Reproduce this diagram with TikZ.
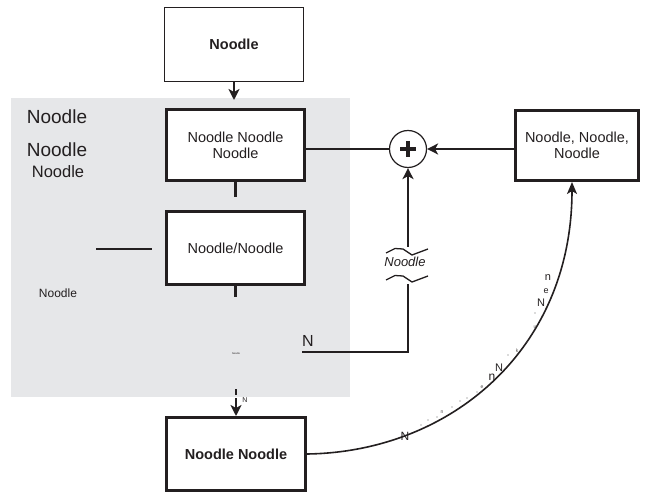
\documentclass[tikz,border=0pt]{standalone}
\usepackage{fontspec}
\setmainfont{Liberation Sans}
\usetikzlibrary{arrows.meta,calc}
\definecolor{ink}{HTML}{231F20}
\definecolor{panel}{HTML}{E6E7E9}
\tikzset{
  thinbox/.style={draw=ink,line width=1.3pt,fill=white,inner sep=0pt,align=center,text=ink},
  thickbox/.style={draw=ink,line width=3pt,fill=white,inner sep=0pt,align=center,text=ink},
  conn/.style={draw=ink,line width=2.8pt},
  arr/.style={conn,-{Stealth[length=11pt,width=11pt,inset=3pt]}},
  lbl/.style={text=ink,inner sep=0pt},
  tiny/.style={text=ink!80,inner sep=0pt,font=\fontsize{5}{6}\selectfont},
}
\begin{document}
\begin{tikzpicture}[x=1pt,y=-1pt]
\useasboundingbox (0,0) rectangle (656,494);
% gray panel
\fill[panel] (11,98) rectangle (350,397);
% boxes
\node[thinbox,minimum width=139pt,minimum height=74pt,font=\bfseries\fontsize{14.5}{16}\selectfont] (top) at (234,44.5) {Noodle};
\node[thickbox,minimum width=138pt,minimum height=71pt,font=\fontsize{14.5}{16}\selectfont] (b2) at (235.5,145) {Noodle Noodle\\Noodle};
\node[thickbox,minimum width=138pt,minimum height=73pt,font=\fontsize{14.5}{16}\selectfont] (b4) at (235.5,248) {Noodle/Noodle};
\node[thickbox,minimum width=139pt,minimum height=73pt,font=\bfseries\fontsize{14.5}{16}\selectfont] (bot) at (236,454) {Noodle Noodle};
\node[thickbox,minimum width=123pt,minimum height=70pt,font=\fontsize{14.5}{15.5}\selectfont] (b3) at (577,145.5) {Noodle, Noodle,\\Noodle};
% sum circle
\node[draw=ink,line width=1.2pt,circle,minimum size=37pt,inner sep=0pt,fill=white] (sum) at (408,149) {};
\draw[ink,line width=4pt] ($(sum.center)+(-8,0)$) -- ($(sum.center)+(8,0)$);
\draw[ink,line width=4pt] ($(sum.center)+(0,-8)$) -- ($(sum.center)+(0,8)$);
% left labels
\node[lbl,font=\fontsize{19}{20}\selectfont] (l1) at (57,117) {Noodle};
\node[lbl,font=\fontsize{19}{20}\selectfont] (l2) at (57,150) {Noodle};
\node[lbl,font=\fontsize{16.5}{18}\selectfont] (l3) at (58,172) {Noodle};
\node[lbl,font=\fontsize{12}{13}\selectfont] (l4) at (58,293) {Noodle};
\node[lbl,font=\fontsize{2.5}{3}\selectfont] (l5) at (236,354) {Noodle};
\node[lbl,font=\fontsize{16}{17}\selectfont] (nn) at (308,341) {N};
\node[lbl,font=\fontsize{7}{8}\selectfont] (n2) at (245,400) {N};
\node[lbl,font=\itshape\fontsize{13}{14}\selectfont] (brk) at (405,262) {Noodle};
% coordinates
\coordinate (topin) at (234,100);
\coordinate (b2s) at (235.5,197);
\coordinate (b4s) at (235.5,297);
\coordinate (ll1) at (96,249);
\coordinate (ll2) at (152,249);
\coordinate (fb0) at (302,352);
\coordinate (fb1) at (408,352);
\coordinate (fb2) at (408,284);
\coordinate (fb3) at (408,247);
\coordinate (d1) at (236,389);
\coordinate (d2) at (236,395);
\coordinate (d3) at (236,398);
\coordinate (b3in) at (572,182);
% connectors
\draw[arr] (top.south) -- (topin);
\draw[conn] (b2.east |- sum.west) -- (sum.west);
\draw[arr] (b3.west |- sum.east) -- (sum.east);
\draw[conn] (b2.south) -- (b2s);
\draw[conn] (b4.south) -- (b4s);
\draw[conn] (ll1) -- (ll2);
\draw[conn] (fb0) -- (fb1) -- (fb2);
\draw[arr] (fb3) -- (sum.south);
\draw[conn] (d1) -- (d2);
\draw[arr] (d3) -- (bot.north);
% break waves
\draw[ink,line width=1.3pt] (386,253) -- (395,248.5) -- (403,249) -- (412,255) -- (428,249);
\draw[ink,line width=1.3pt] (386,280) -- (395,275.5) -- (403,276) -- (412,282) -- (428,276);
% curve
\draw[draw=ink,line width=1.6pt,-{Stealth[length=12pt,width=10pt,inset=3pt]}] (bot.east) .. controls (450,452) and (572,350) .. (b3in);
% text along curve
\node[lbl,font=\fontsize{12}{13}\selectfont] (c1) at (405,436) {N};
\node[lbl,font=\fontsize{12}{13}\selectfont] (c2) at (492,377) {n};
\node[lbl,font=\fontsize{11}{12}\selectfont] (c3) at (499,368) {N};
\node[tiny] (c4) at (517,351) {k};
\node[tiny] (c5) at (535,327) {u};
\node[lbl,font=\fontsize{11}{12}\selectfont] (c6) at (541,303) {N};
\node[lbl,font=\fontsize{9}{10}\selectfont] (c7) at (546,291) {e};
\node[lbl,font=\fontsize{11}{12}\selectfont] (c8) at (548,278) {n};
\node[tiny] (c9) at (442,412) {n};
\node[tiny] (c10) at (482,387) {e};
\foreach \p in {(421,425),(428,420),(437,417),(452,407),(460,401),(467,398),(477,392),(508,355),(527,342),(535,313)}
  \fill[ink!70] \p circle (0.7pt);
\end{tikzpicture}
\end{document}
